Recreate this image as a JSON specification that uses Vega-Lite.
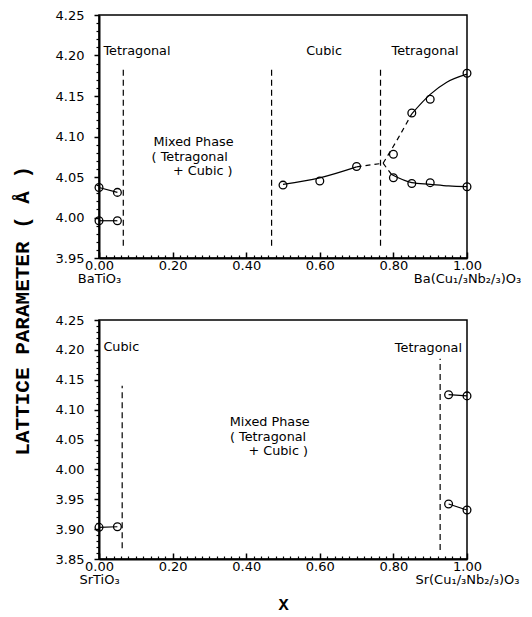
{
  "$schema": "https://vega.github.io/schema/vega-lite/v6.json",
  "background": "white",
  "padding": {"left": 12, "top": 8, "right": 0, "bottom": 0},
  "title": {
    "text": "LATTICE PARAMETER ( Å )",
    "orient": "left",
    "anchor": "middle",
    "font": "Liberation Mono",
    "fontSize": 21,
    "fontWeight": "bold",
    "color": "black",
    "offset": 21
  },
  "spacing": 26,
  "config": {
    "view": {"stroke": "black", "strokeWidth": 1.5},
    "axis": {
      "grid": false,
      "domainColor": "black",
      "domainWidth": 2,
      "tickColor": "black",
      "labelColor": "black",
      "labelFont": "DejaVu Sans",
      "labelFontSize": 13,
      "labelLineHeight": 13.5,
      "titleColor": "black"
    },
    "text": {"font": "DejaVu Sans", "fontSize": 12.8, "color": "black"}
  },
  "datasets": {
    "rulesTop": [
      {"x": 0.066, "y1": 3.965, "y2": 4.183},
      {"x": 0.469, "y1": 3.965, "y2": 4.183},
      {"x": 0.765, "y1": 3.965, "y2": 4.183}
    ],
    "solidTop": [
      {"s": "a", "x": 0.0, "y": 4.037},
      {"s": "a", "x": 0.05, "y": 4.031},
      {"s": "b", "x": 0.0, "y": 3.996},
      {"s": "b", "x": 0.05, "y": 3.996},
      {"s": "c", "x": 0.5, "y": 4.041},
      {"s": "c", "x": 0.6, "y": 4.049},
      {"s": "c", "x": 0.7, "y": 4.0625},
      {"s": "d", "x": 0.85, "y": 4.128},
      {"s": "d", "x": 0.9, "y": 4.152},
      {"s": "d", "x": 0.945, "y": 4.167},
      {"s": "d", "x": 1.0, "y": 4.177},
      {"s": "e", "x": 0.795, "y": 4.053},
      {"s": "e", "x": 0.85, "y": 4.043},
      {"s": "e", "x": 0.9, "y": 4.041},
      {"s": "e", "x": 0.95, "y": 4.039},
      {"s": "e", "x": 1.0, "y": 4.038}
    ],
    "dashedTop": [
      {"s": "f", "x": 0.7, "y": 4.0625},
      {"s": "f", "x": 0.772, "y": 4.067},
      {"s": "g", "x": 0.772, "y": 4.067},
      {"s": "g", "x": 0.813, "y": 4.098},
      {"s": "g", "x": 0.85, "y": 4.128},
      {"s": "h", "x": 0.772, "y": 4.067},
      {"s": "h", "x": 0.795, "y": 4.053}
    ],
    "pointsTop": [
      {"x": 0.0, "y": 4.037},
      {"x": 0.05, "y": 4.031},
      {"x": 0.0, "y": 3.996},
      {"x": 0.05, "y": 3.996},
      {"x": 0.5, "y": 4.040},
      {"x": 0.6, "y": 4.045},
      {"x": 0.7, "y": 4.063},
      {"x": 0.8, "y": 4.078},
      {"x": 0.8, "y": 4.049},
      {"x": 0.85, "y": 4.129},
      {"x": 0.85, "y": 4.042},
      {"x": 0.9, "y": 4.146},
      {"x": 0.9, "y": 4.043},
      {"x": 1.0, "y": 4.178},
      {"x": 1.0, "y": 4.038}
    ],
    "textTop": [
      {"x": 0.012, "y": 4.206, "t": "Tetragonal"},
      {"x": 0.148, "y": 4.093, "t": "Mixed Phase"},
      {"x": 0.143, "y": 4.075, "t": "( Tetragonal"},
      {"x": 0.201, "y": 4.057, "t": "+ Cubic )"},
      {"x": 0.563, "y": 4.206, "t": "Cubic"},
      {"x": 0.795, "y": 4.206, "t": "Tetragonal"}
    ],
    "rulesBot": [
      {"x": 0.063, "y1": 3.868, "y2": 4.14},
      {"x": 0.927, "y1": 3.865, "y2": 4.185}
    ],
    "solidBot": [
      {"s": "a", "x": 0.0, "y": 3.903},
      {"s": "a", "x": 0.05, "y": 3.904},
      {"s": "b", "x": 0.95, "y": 4.125},
      {"s": "b", "x": 1.0, "y": 4.123},
      {"s": "c", "x": 0.95, "y": 3.942},
      {"s": "c", "x": 1.0, "y": 3.932}
    ],
    "pointsBot": [
      {"x": 0.0, "y": 3.903},
      {"x": 0.05, "y": 3.904},
      {"x": 0.95, "y": 4.125},
      {"x": 1.0, "y": 4.123},
      {"x": 0.95, "y": 3.942},
      {"x": 1.0, "y": 3.932}
    ],
    "textBot": [
      {"x": 0.012, "y": 4.205, "t": "Cubic"},
      {"x": 0.355, "y": 4.079, "t": "Mixed Phase"},
      {"x": 0.356, "y": 4.055, "t": "( Tetragonal"},
      {"x": 0.406, "y": 4.031, "t": "+ Cubic )"},
      {"x": 0.804, "y": 4.203, "t": "Tetragonal"}
    ]
  },
  "vconcat": [
    {
      "width": 368,
      "height": 243,
      "resolve": {"axis": {"x": "independent", "y": "independent"}},
      "layer": [
        {
          "data": {"name": "rulesTop"},
          "mark": {"type": "rule", "strokeDash": [6, 4], "strokeWidth": 1.2, "color": "black"},
          "encoding": {
            "x": {"field": "x", "type": "quantitative", "scale": {"domain": [0, 1], "nice": false},
              "axis": {"orient": "bottom", "values": [0, 0.2, 0.4, 0.6, 0.8, 1], "labelExpr": "datum.value == 0 ? ['0.00', 'BaTiO₃'] : datum.value == 1 ? ['1.00', 'Ba(Cu₁/₃Nb₂/₃)O₃'] : format(datum.value, '.2f')", "tickSize": -6, "tickWidth": 1.5, "labelPadding": 7, "labelFlush": false, "labelOverlap": false, "title": null}},
            "y": {"field": "y1", "type": "quantitative", "scale": {"domain": [3.95, 4.25], "nice": false, "zero": false},
              "axis": {"orient": "left", "values": [3.95, 4.0, 4.05, 4.1, 4.15, 4.2, 4.25], "format": ".2f", "tickSize": 5, "tickWidth": 1.5, "labelPadding": 10, "title": null}},
            "y2": {"field": "y2"}
          }
        },
        {
          "data": {"name": "solidTop"},
          "mark": {"type": "line", "color": "black", "strokeWidth": 1.2, "interpolate": "monotone"},
          "encoding": {
            "x": {"field": "x", "type": "quantitative", "scale": {"domain": [0, 1], "nice": false}, "axis": null},
            "y": {"field": "y", "type": "quantitative", "scale": {"domain": [3.95, 4.25], "nice": false, "zero": false}, "axis": null},
            "detail": {"field": "s"}
          }
        },
        {
          "data": {"name": "dashedTop"},
          "mark": {"type": "line", "color": "black", "strokeWidth": 1.2, "strokeDash": [5, 4], "interpolate": "monotone"},
          "encoding": {
            "x": {"field": "x", "type": "quantitative", "scale": {"domain": [0, 1], "nice": false}, "axis": null},
            "y": {"field": "y", "type": "quantitative", "scale": {"domain": [3.95, 4.25], "nice": false, "zero": false}, "axis": null},
            "detail": {"field": "s"}
          }
        },
        {
          "data": {"name": "pointsTop"},
          "mark": {"type": "point", "shape": "circle", "filled": false, "size": 60, "stroke": "black", "strokeWidth": 1.3, "opacity": 1},
          "encoding": {
            "x": {"field": "x", "type": "quantitative", "scale": {"domain": [0, 1], "nice": false},
              "axis": {"orient": "bottom", "values": [0.02, 0.04, 0.06, 0.08, 0.1, 0.12, 0.14, 0.16, 0.18, 0.22, 0.24, 0.26, 0.28, 0.3, 0.32, 0.34, 0.36, 0.38, 0.42, 0.44, 0.46, 0.48, 0.5, 0.52, 0.54, 0.56, 0.58, 0.62, 0.64, 0.66, 0.68, 0.7, 0.72, 0.74, 0.76, 0.78, 0.82, 0.84, 0.86, 0.88, 0.9, 0.92, 0.94, 0.96, 0.98], "labels": false, "domain": false, "tickSize": -3, "tickWidth": 1.2, "title": null}},
            "y": {"field": "y", "type": "quantitative", "scale": {"domain": [3.95, 4.25], "nice": false, "zero": false},
              "axis": {"orient": "left", "values": [3.96, 3.97, 3.98, 3.99, 4.01, 4.02, 4.03, 4.04, 4.06, 4.07, 4.08, 4.09, 4.11, 4.12, 4.13, 4.14, 4.16, 4.17, 4.18, 4.19, 4.21, 4.22, 4.23, 4.24], "labels": false, "domain": false, "tickSize": 3, "tickWidth": 1.2, "title": null}}
          }
        },
        {
          "data": {"name": "textTop"},
          "mark": {"type": "text", "align": "left", "baseline": "middle"},
          "encoding": {
            "x": {"field": "x", "type": "quantitative", "scale": {"domain": [0, 1], "nice": false}, "axis": null},
            "y": {"field": "y", "type": "quantitative", "scale": {"domain": [3.95, 4.25], "nice": false, "zero": false}, "axis": null},
            "text": {"field": "t"}
          }
        }
      ]
    },
    {
      "width": 368,
      "height": 239,
      "resolve": {"axis": {"x": "independent", "y": "independent"}},
      "layer": [
        {
          "data": {"name": "rulesBot"},
          "mark": {"type": "rule", "strokeDash": [6, 4], "strokeWidth": 1.2, "color": "black"},
          "encoding": {
            "x": {"field": "x", "type": "quantitative", "scale": {"domain": [0, 1], "nice": false},
              "axis": {"orient": "bottom", "values": [0, 0.2, 0.4, 0.6, 0.8, 1], "labelExpr": "datum.value == 0 ? ['0.00', 'SrTiO₃'] : datum.value == 1 ? ['1.00', 'Sr(Cu₁/₃Nb₂/₃)O₃'] : format(datum.value, '.2f')", "tickSize": -6, "tickWidth": 1.5, "labelPadding": 7, "labelFlush": false, "labelOverlap": false, "title": "X", "titleFont": "Liberation Mono", "titleFontSize": 17, "titleFontWeight": "bold", "titlePadding": 10}},
            "y": {"field": "y1", "type": "quantitative", "scale": {"domain": [3.85, 4.25], "nice": false, "zero": false},
              "axis": {"orient": "left", "values": [3.85, 3.9, 3.95, 4.0, 4.05, 4.1, 4.15, 4.2, 4.25], "format": ".2f", "tickSize": 5, "tickWidth": 1.5, "labelPadding": 10, "title": null}},
            "y2": {"field": "y2"}
          }
        },
        {
          "data": {"name": "solidBot"},
          "mark": {"type": "line", "color": "black", "strokeWidth": 1.2},
          "encoding": {
            "x": {"field": "x", "type": "quantitative", "scale": {"domain": [0, 1], "nice": false}, "axis": null},
            "y": {"field": "y", "type": "quantitative", "scale": {"domain": [3.85, 4.25], "nice": false, "zero": false}, "axis": null},
            "detail": {"field": "s"}
          }
        },
        {
          "data": {"name": "pointsBot"},
          "mark": {"type": "point", "shape": "circle", "filled": false, "size": 60, "stroke": "black", "strokeWidth": 1.3, "opacity": 1},
          "encoding": {
            "x": {"field": "x", "type": "quantitative", "scale": {"domain": [0, 1], "nice": false},
              "axis": {"orient": "bottom", "values": [0.02, 0.04, 0.06, 0.08, 0.1, 0.12, 0.14, 0.16, 0.18, 0.22, 0.24, 0.26, 0.28, 0.3, 0.32, 0.34, 0.36, 0.38, 0.42, 0.44, 0.46, 0.48, 0.5, 0.52, 0.54, 0.56, 0.58, 0.62, 0.64, 0.66, 0.68, 0.7, 0.72, 0.74, 0.76, 0.78, 0.82, 0.84, 0.86, 0.88, 0.9, 0.92, 0.94, 0.96, 0.98], "labels": false, "domain": false, "tickSize": -3, "tickWidth": 1.2, "title": null}},
            "y": {"field": "y", "type": "quantitative", "scale": {"domain": [3.85, 4.25], "nice": false, "zero": false},
              "axis": {"orient": "left", "values": [3.86, 3.87, 3.88, 3.89, 3.91, 3.92, 3.93, 3.94, 3.96, 3.97, 3.98, 3.99, 4.01, 4.02, 4.03, 4.04, 4.06, 4.07, 4.08, 4.09, 4.11, 4.12, 4.13, 4.14, 4.16, 4.17, 4.18, 4.19, 4.21, 4.22, 4.23, 4.24], "labels": false, "domain": false, "tickSize": 3, "tickWidth": 1.2, "title": null}}
          }
        },
        {
          "data": {"name": "textBot"},
          "mark": {"type": "text", "align": "left", "baseline": "middle"},
          "encoding": {
            "x": {"field": "x", "type": "quantitative", "scale": {"domain": [0, 1], "nice": false}, "axis": null},
            "y": {"field": "y", "type": "quantitative", "scale": {"domain": [3.85, 4.25], "nice": false, "zero": false}, "axis": null},
            "text": {"field": "t"}
          }
        }
      ]
    }
  ]
}
